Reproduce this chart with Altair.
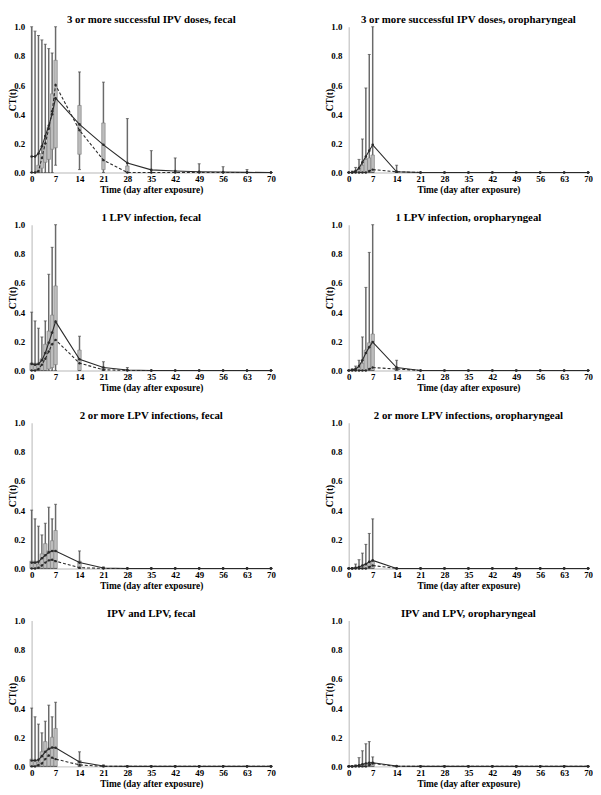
import altair as alt
import pandas as pd

DAYS = [0, 1, 2, 3, 4, 5, 6, 7, 14, 21, 28, 35, 42, 49, 56, 63, 70]
XTICKS = [0, 7, 14, 21, 28, 35, 42, 49, 56, 63, 70]
YTICKS = [0, 0.2, 0.4, 0.6, 0.8, 1.0]

TITLES = [
    "3 or more successful IPV doses, fecal",
    "3 or more successful IPV doses, oropharyngeal",
    "1 LPV infection, fecal",
    "1 LPV infection, oropharyngeal",
    "2 or more LPV infections, fecal",
    "2 or more LPV infections, oropharyngeal",
    "IPV and LPV, fecal",
    "IPV and LPV, oropharyngeal",
]

# Panel 1: 3+ IPV doses, fecal
P1_WMIN = [0, 0, 0, 0, 0, 0, 0, 0.05, 0.02, 0, 0, 0, 0, 0, 0, 0, 0]
P1_WMAX = [1.0, 0.97, 0.94, 0.91, 0.88, 0.85, 0.82, 1.0, 0.69, 0.62, 0.37, 0.15, 0.10, 0.06, 0.04, 0.02, 0.0]
P1_Q1 = [0, 0, 0, 0.03, 0.07, 0.09, 0.16, 0.17, 0.125, 0.02, 0, 0, 0, 0, 0, 0, 0]
P1_Q3 = [0, 0, 0.05, 0.13, 0.2, 0.31, 0.54, 0.77, 0.46, 0.34, 0.045, 0, 0, 0, 0, 0, 0]
P1_MEAN = [0.11, 0.11, 0.13, 0.18, 0.25, 0.32, 0.40, 0.51, 0.33, 0.19, 0.065, 0.018, 0.01, 0.005, 0.003, 0.001, 0.0]
P1_MED = [0, 0, 0.01, 0.1, 0.2, 0.3, 0.42, 0.6, 0.29, 0.085, 0, 0, 0, 0, 0, 0, 0]

# Panel 2: 3+ IPV doses, oropharyngeal
P2_WMIN = [0] * 17
P2_WMAX = [0, 0.01, 0.035, 0.09, 0.23, 0.58, 0.81, 1.0, 0.05, 0, 0, 0, 0, 0, 0, 0, 0]
P2_Q1 = [0] * 17
P2_Q3 = [0, 0, 0.01, 0.02, 0.05, 0.09, 0.1, 0.12, 0, 0, 0, 0, 0, 0, 0, 0, 0]
P2_MEAN = [0, 0, 0.01, 0.03, 0.07, 0.11, 0.15, 0.19, 0.005, 0, 0, 0, 0, 0, 0, 0, 0]
P2_MED = [0, 0, 0, 0, 0, 0, 0.01, 0.02, 0.005, 0, 0, 0, 0, 0, 0, 0, 0]

# Panel 3: 1 LPV infection, fecal
P3_WMIN = [0] * 17
P3_WMAX = [0.40, 0.34, 0.29, 0.23, 0.34, 0.66, 0.845, 1.0, 0.235, 0.06, 0.02, 0, 0, 0, 0, 0, 0]
P3_Q1 = [0, 0, 0, 0, 0, 0.01, 0.02, 0.04, 0, 0, 0, 0, 0, 0, 0, 0, 0]
P3_Q3 = [0.05, 0.05, 0.04, 0.08, 0.18, 0.27, 0.38, 0.58, 0.14, 0.02, 0, 0, 0, 0, 0, 0, 0]
P3_MEAN = [0.045, 0.04, 0.045, 0.07, 0.12, 0.19, 0.26, 0.335, 0.077, 0.02, 0.003, 0, 0, 0, 0, 0, 0]
P3_MED = [0, 0, 0.01, 0.04, 0.08, 0.13, 0.18, 0.21, 0.05, 0.005, 0, 0, 0, 0, 0, 0, 0]

# Panel 4: 1 LPV infection, oropharyngeal
P4_WMIN = [0] * 17
P4_WMAX = [0, 0.01, 0.03, 0.07, 0.23, 0.57, 0.81, 1.0, 0.07, 0, 0, 0, 0, 0, 0, 0, 0]
P4_Q1 = [0] * 17
P4_Q3 = [0, 0, 0.01, 0.02, 0.05, 0.14, 0.19, 0.25, 0.02, 0, 0, 0, 0, 0, 0, 0, 0]
P4_MEAN = [0, 0.005, 0.01, 0.03, 0.07, 0.12, 0.16, 0.195, 0.02, 0, 0, 0, 0, 0, 0, 0, 0]
P4_MED = [0, 0, 0, 0, 0, 0, 0.01, 0.02, 0.01, 0, 0, 0, 0, 0, 0, 0, 0]

# Panel 5: 2+ LPV infections, fecal
P5_WMIN = [0] * 17
P5_WMAX = [0.40, 0.34, 0.29, 0.23, 0.31, 0.42, 0.34, 0.44, 0.12, 0.01, 0, 0, 0, 0, 0, 0, 0]
P5_Q1 = [0] * 17
P5_Q3 = [0.05, 0.05, 0.03, 0.1, 0.17, 0.12, 0.19, 0.26, 0.05, 0, 0, 0, 0, 0, 0, 0, 0]
P5_MEAN = [0.04, 0.04, 0.045, 0.07, 0.09, 0.11, 0.12, 0.12, 0.04, 0.003, 0, 0, 0, 0, 0, 0, 0]
P5_MED = [0, 0, 0.005, 0.02, 0.04, 0.055, 0.06, 0.05, 0.005, 0, 0, 0, 0, 0, 0, 0, 0]

# Panel 6: 2+ LPV infections, oropharyngeal
P6_WMIN = [0] * 17
P6_WMAX = [0, 0.005, 0.03, 0.06, 0.105, 0.165, 0.24, 0.34, 0, 0, 0, 0, 0, 0, 0, 0, 0]
P6_Q1 = [0] * 17
P6_Q3 = [0, 0, 0, 0.005, 0.01, 0.02, 0.04, 0.05, 0, 0, 0, 0, 0, 0, 0, 0, 0]
P6_MEAN = [0, 0, 0.005, 0.01, 0.02, 0.03, 0.045, 0.055, 0, 0, 0, 0, 0, 0, 0, 0, 0]
P6_MED = [0, 0, 0, 0, 0, 0, 0.01, 0.02, 0, 0, 0, 0, 0, 0, 0, 0, 0]

# Panel 7: IPV and LPV, fecal
P7_WMIN = [0] * 17
P7_WMAX = [0.40, 0.34, 0.29, 0.23, 0.31, 0.42, 0.34, 0.44, 0.1, 0.01, 0, 0, 0, 0, 0, 0, 0]
P7_Q1 = [0] * 17
P7_Q3 = [0.05, 0.04, 0.03, 0.1, 0.17, 0.12, 0.2, 0.26, 0.04, 0, 0, 0, 0, 0, 0, 0, 0]
P7_MEAN = [0.04, 0.04, 0.045, 0.07, 0.1, 0.12, 0.13, 0.128, 0.03, 0.003, 0, 0, 0, 0, 0, 0, 0]
P7_MED = [0, 0, 0.01, 0.02, 0.05, 0.075, 0.06, 0.05, 0.01, 0, 0, 0, 0, 0, 0, 0, 0]

# Panel 8: IPV and LPV, oropharyngeal
P8_WMIN = [0] * 17
P8_WMAX = [0, 0, 0.01, 0.06, 0.107, 0.155, 0.17, 0.065, 0, 0, 0, 0, 0, 0, 0, 0, 0]
P8_Q1 = [0] * 17
P8_Q3 = [0, 0, 0, 0.005, 0.01, 0.015, 0.02, 0.025, 0, 0, 0, 0, 0, 0, 0, 0, 0]
P8_MEAN = [0, 0, 0.003, 0.008, 0.015, 0.02, 0.025, 0.025, 0.003, 0, 0, 0, 0, 0, 0, 0, 0]
P8_MED = [0, 0, 0, 0, 0, 0, 0.01, 0.02, 0, 0, 0, 0, 0, 0, 0, 0, 0]

PANELS = [
    (P1_WMIN, P1_WMAX, P1_Q1, P1_Q3, P1_MEAN, P1_MED),
    (P2_WMIN, P2_WMAX, P2_Q1, P2_Q3, P2_MEAN, P2_MED),
    (P3_WMIN, P3_WMAX, P3_Q1, P3_Q3, P3_MEAN, P3_MED),
    (P4_WMIN, P4_WMAX, P4_Q1, P4_Q3, P4_MEAN, P4_MED),
    (P5_WMIN, P5_WMAX, P5_Q1, P5_Q3, P5_MEAN, P5_MED),
    (P6_WMIN, P6_WMAX, P6_Q1, P6_Q3, P6_MEAN, P6_MED),
    (P7_WMIN, P7_WMAX, P7_Q1, P7_Q3, P7_MEAN, P7_MED),
    (P8_WMIN, P8_WMAX, P8_Q1, P8_Q3, P8_MEAN, P8_MED),
]

FONT = "Liberation Serif"
W, H = 243, 148


def panel(title, wmin, wmax, q1, q3, mean, med):
    df = pd.DataFrame({"day": DAYS, "wmin": wmin, "wmax": wmax, "q1": q1,
                       "q3": q3, "mean": mean, "med": med})
    base = alt.Chart(df)
    xsc = alt.Scale(domain=[0, 70], nice=False, zero=False, padding=0)
    xax = alt.Axis(values=XTICKS, title="Time (day after exposure)",
                   format="d", labelPadding=2, titlePadding=1)
    x = alt.X("day:Q", scale=xsc, axis=xax)
    ysc = alt.Scale(domain=[0, 1], nice=False, padding=0)
    yax = alt.Axis(values=YTICKS, format=".1f", title="CT(t)", titleX=-14,
                   labelPadding=7)
    whisk = base.mark_rule(color="#6a6a6a", strokeWidth=1.5).encode(
        x=x, y=alt.Y("wmin:Q", scale=ysc, axis=yax), y2="wmax:Q")
    caps_top = base.mark_tick(orient="horizontal", size=3, thickness=1,
                              color="#444").encode(
        x=x, y=alt.Y("wmax:Q", scale=ysc, axis=yax))
    caps_bot = base.mark_tick(orient="horizontal", size=3, thickness=1,
                              color="#444").encode(
        x=x, y=alt.Y("wmin:Q", scale=ysc, axis=yax))
    box = base.mark_bar(size=3.5, color="#bdbdbd", stroke="#7a7a7a",
                        strokeWidth=0.6).encode(
        x=x, y=alt.Y("q1:Q", scale=ysc, axis=yax), y2="q3:Q")
    mean_l = base.mark_line(color="#2a2a2a", strokeWidth=1.1,
                            point=alt.OverlayMarkDef(size=7, color="#2a2a2a",
                                                     filled=True)).encode(
        x=x, y=alt.Y("mean:Q", scale=ysc, axis=yax))
    med_l = base.mark_line(color="#2a2a2a", strokeWidth=1.1, strokeDash=[3, 2],
                           point=alt.OverlayMarkDef(size=6, color="#2a2a2a",
                                                    filled=True)).encode(
        x=x, y=alt.Y("med:Q", scale=ysc, axis=yax))
    return alt.layer(whisk, box, caps_top, caps_bot, mean_l, med_l).properties(
        width=W, height=H,
        title=alt.TitleParams(title, font=FONT, fontSize=11, fontWeight="bold",
                              color="black", offset=-2, anchor="middle",
                              frame="group"))


charts = [panel(TITLES[i], *PANELS[i]) for i in range(8)]
rows = [alt.hconcat(charts[2 * r], charts[2 * r + 1], spacing=50) for r in range(4)]
chart = alt.vconcat(*rows, spacing=18).properties(
    padding={"left": 0, "top": 0, "right": 0, "bottom": 0}
).configure_view(stroke=None).configure_axis(
    labelFont=FONT, labelFontWeight="bold", labelFontSize=9, labelColor="black",
    titleFont=FONT, titleFontWeight="bold", titleFontSize=9.5, titleColor="black",
    domainColor="#cfcfcf", domainWidth=1.5, ticks=False, tickSize=0, grid=False,
    labelOverlap=False, labelFlush=False,
).configure_scale(continuousPadding=0)

chart.save("out.html", embed_options={"renderer": "svg", "actions": False})
